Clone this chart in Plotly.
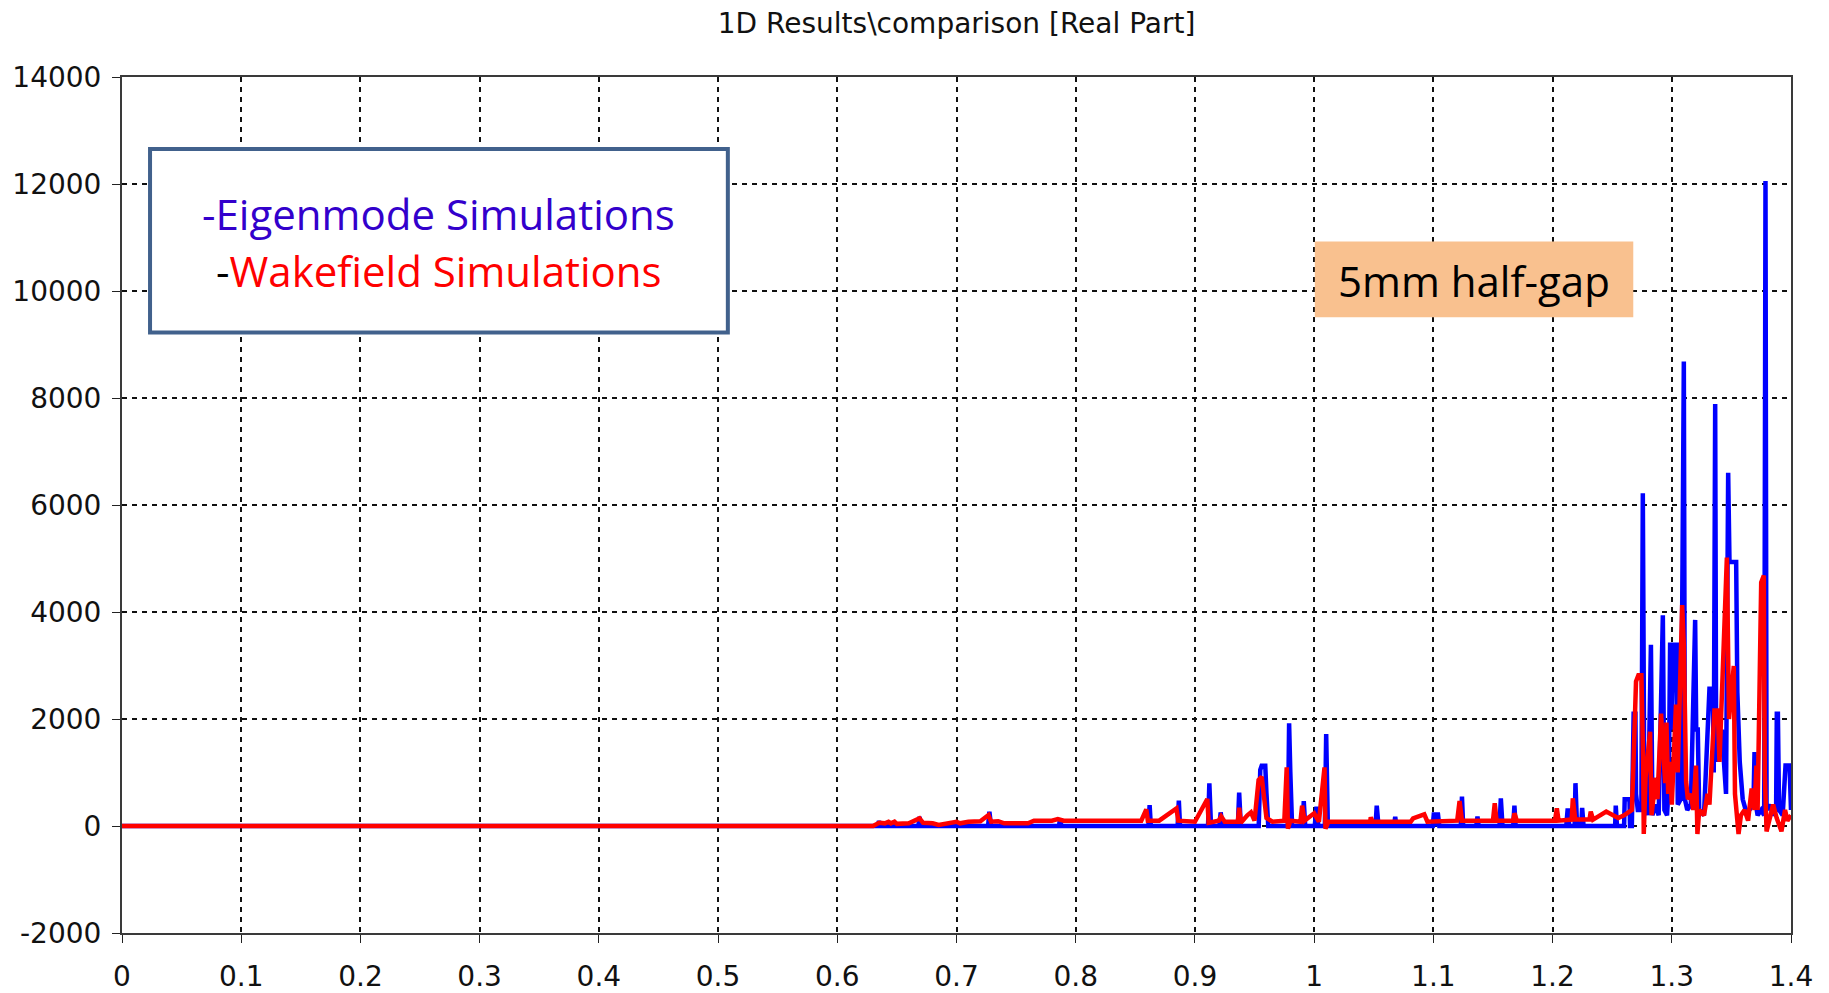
import plotly.graph_objects as go

# ---------------- data ----------------
eigen_x = [0.0, 0.634, 0.635, 0.636,
           0.668, 0.669, 0.670,
           0.7265, 0.7276, 0.729,
           0.786, 0.7868, 0.788,
           0.861, 0.862, 0.863,
           0.8855, 0.8865, 0.8875,
           0.911, 0.9121, 0.9135,
           0.9205, 0.9216, 0.923,
           0.936, 0.9371, 0.9385,
           0.9535, 0.9548, 0.956, 0.959, 0.960, 0.9615,
           0.978, 0.979, 0.980, 0.9815,
           0.9905, 0.9913, 0.9925,
           1.0005, 1.002, 1.0035,
           1.009, 1.0101, 1.0115,
           1.0515, 1.0525, 1.054,
           1.067, 1.068, 1.069,
           1.0995, 1.1005, 1.1015, 1.1037, 1.105,
           1.123, 1.124, 1.125,
           1.136, 1.137, 1.138,
           1.1555, 1.1566, 1.158,
           1.167, 1.168, 1.169,
           1.2115, 1.2127, 1.214,
           1.2185, 1.2192, 1.2205,
           1.224, 1.2248, 1.226,
           1.2525, 1.253, 1.254,
           1.26, 1.2605, 1.2645, 1.265,
           1.2665, 1.2675, 1.268, 1.2695, 1.270, 1.2715, 1.2745, 1.2757, 1.277,
           1.278, 1.2795, 1.280, 1.2825, 1.2838, 1.286, 1.289, 1.2925, 1.2938, 1.296, 1.2975,
           1.2986, 1.300, 1.3015, 1.303, 1.3042, 1.305,
           1.3075, 1.3083, 1.309, 1.3101, 1.311,
           1.313, 1.316, 1.3196, 1.3205, 1.3218, 1.323,
           1.327, 1.3316, 1.3344, 1.3352, 1.3364, 1.3372, 1.339, 1.342, 1.3455,
           1.3473, 1.3484, 1.354, 1.355, 1.357, 1.3595, 1.362, 1.365,
           1.3685, 1.3694, 1.3705, 1.372, 1.375, 1.3775, 1.3786, 1.3795,
           1.382, 1.385, 1.3875, 1.3881, 1.389, 1.390, 1.393, 1.3954, 1.3988, 1.4]
eigen_y = [0, 0, 93, 0,
           0, 174, 0,
           0, 268, 0,
           0, 137, 0,
           0, 392, 0,
           0, 473, 0,
           0, 797, 0,
           0, 255, 0,
           0, 623, 0,
           0, 1047, 1128, 1128, 610, 0,
           0, 1919, 1015, 0,
           0, 467, 0,
           0, 361, 0,
           0, 1720, 0,
           0, 380, 0,
           0, 174, 0,
           0, 255, 0, 250, 0,
           0, 550, 0,
           0, 175, 0,
           0, 517, 0,
           0, 380, 0,
           0, 330, 0,
           0, 800, 0,
           0, 340, 0,
           0, 380, 0,
           0, 500, 500, 0,
           0, 900, 2100, 2100, 600, 300, 300, 6220, 300,
           900, 400, 200, 3387, 200, 400, 200, 3937, 300, 200, 800,
           3430, 1800, 3430, 2500, 3430, 400,
           500, 4935, 4935, 8680, 500,
           300, 400, 3852, 1806, 1806, 300,
           200, 2567, 2567, 1000, 7886, 1500, 1200, 1800, 600,
           6601, 4935, 4935, 2500, 1200, 500, 300, 300,
           400, 1383, 400, 200, 300, 200, 12055, 300,
           400, 200, 300, 2100, 2100, 300, 200, 1129, 1129, 300]

wake_x = [0.0, 0.63, 0.6352, 0.64, 0.643, 0.645, 0.648, 0.65, 0.66, 0.665, 0.669, 0.672,
          0.68, 0.685, 0.695, 0.70, 0.703, 0.71, 0.72, 0.7268, 0.729, 0.735, 0.74,
          0.76, 0.765, 0.78, 0.785, 0.79, 0.80, 0.855, 0.8592, 0.8605, 0.87,
          0.8845, 0.886, 0.90, 0.9104, 0.9115, 0.92, 0.922, 0.925, 0.936, 0.9371,
          0.9385, 0.944, 0.947, 0.95, 0.9534, 0.956, 0.958, 0.96, 0.965, 0.975,
          0.977, 0.978, 0.98, 0.9885, 0.9899, 0.992, 1.0, 1.004, 1.0087, 1.0095,
          1.012, 1.047, 1.0475, 1.049, 1.081, 1.083, 1.0924, 1.095,
          1.12, 1.122, 1.124, 1.15, 1.1515, 1.153, 1.167, 1.168, 1.170,
          1.202, 1.2036, 1.205, 1.216, 1.217, 1.219, 1.231, 1.232, 1.234,
          1.245, 1.250, 1.255, 1.26, 1.263, 1.2665, 1.2675, 1.270, 1.272, 1.2745,
          1.276, 1.2765, 1.278, 1.2818, 1.283, 1.2865, 1.288, 1.291, 1.2925, 1.2945,
          1.2955, 1.297, 1.2985, 1.300, 1.3035, 1.305, 1.3087, 1.3101, 1.312, 1.3135,
          1.316, 1.318, 1.3203, 1.3215, 1.323, 1.327, 1.330, 1.3316, 1.3358, 1.3386,
          1.340, 1.3442, 1.3462, 1.348, 1.352, 1.353, 1.356, 1.358, 1.361, 1.364,
          1.367, 1.3694, 1.371, 1.372, 1.375, 1.3772, 1.378, 1.3795, 1.382, 1.385,
          1.388, 1.392, 1.395, 1.397, 1.4]
wake_y = [0, 0, 60, 50, 80, 50, 80, 40, 50, 100, 143, 60,
          50, 20, 50, 80, 50, 80, 90, 205, 80, 90, 50,
          50, 100, 100, 130, 100, 100, 100, 311, 100, 100,
          330, 100, 80, 505, 60, 100, 180, 80, 80, 343,
          60, 200, 255, 100, 860, 922, 600, 150, 80, 100,
          1096, -50, 100, 80, 380, 100, 237, 80, 1096, -50,
          80, 80, 162, 80, 80, 143, 218, 80,
          100, 467, 100, 100, 424, 100, 100, 237, 100,
          100, 330, 100, 120, 517, 120, 120, 270, 120,
          270, 200, 150, 200, 250, 300, 915, 2700, 2819, 2819,
          1200, -150, 900, 1763, 200, 900, 500, 2100, 1500, 800,
          1932, 600, 1200, 400, 2270, 1000, 4131, 3370, 830, 500,
          600, 300, 1130, -150, 300, 200, 600, 400, 2160, 2160,
          1200, 3920, 5019, 2000, 2990, 600, -150, 200, 300, 100,
          700, 300, 1130, 300, 4554, 4681, 1000, -100, 100, 400,
          150, -100, 300, 100, 200]

x_tickvals = [0, 0.1, 0.2, 0.3, 0.4, 0.5, 0.6, 0.7, 0.8, 0.9, 1.0, 1.1, 1.2, 1.3, 1.4]
x_ticktext = ["0", "0.1", "0.2", "0.3", "0.4", "0.5", "0.6", "0.7", "0.8", "0.9",
              "1", "1.1", "1.2", "1.3", "1.4"]
y_tickvals = [-2000, 0, 2000, 4000, 6000, 8000, 10000, 12000, 14000]
y_ticktext = ["-2000", "0", "2000", "4000", "6000", "8000", "10000", "12000", "14000"]

title_text = "1D Results\\comparison [Real Part]"
# ---------------------------------------------------------------

W, H = 1829, 993
L, R, T, B = 122, 38, 77, 60

fig = go.Figure()
fig.add_trace(go.Scatter(x=eigen_x, y=eigen_y, mode="lines",
                         line=dict(color="#0000ff", width=4.5),
                         name="Eigenmode Simulations"))
fig.add_trace(go.Scatter(x=wake_x, y=wake_y, mode="lines",
                         line=dict(color="#ff0000", width=4.5),
                         name="Wakefield Simulations"))

axis_common = dict(showline=True, mirror=True, linecolor="#3a3a3a", linewidth=2,
                   showgrid=True, gridcolor="#111111", gridwidth=1.5,
                   griddash="5px,5px", ticks="outside", ticklen=8,
                   tickcolor="#222222", zeroline=False, automargin=False,
                   tickfont=dict(family="DejaVu Sans", size=28, color="#111111"))

fig.update_xaxes(range=[0, 1.4], tickvals=x_tickvals, ticktext=x_ticktext,
                 ticklabelstandoff=9, **axis_common)
fig.update_yaxes(range=[-2000, 14000], tickvals=y_tickvals, ticktext=y_ticktext,
                 ticklabelstandoff=5, **axis_common)

fig.update_layout(
    width=W, height=H,
    margin=dict(l=L, r=R, t=T, b=B, autoexpand=False),
    paper_bgcolor="white", plot_bgcolor="white",
    showlegend=False,
    title=dict(text=title_text, x=0.523, xanchor="center",
               y=1 - 23 / H, yanchor="middle",
               font=dict(family="DejaVu Sans", size=28, color="#111111")),
    shapes=[
        dict(type="rect", xref="paper", yref="paper",
             x0=0.0168, x1=0.363, y0=0.7015, y1=0.9159,
             line=dict(color="#41618c", width=4), fillcolor="white", layer="above"),
        dict(type="rect", xref="paper", yref="paper",
             x0=0.7147, x1=0.9055, y0=0.7193, y1=0.8078,
             line=dict(width=0), fillcolor="#f9c18f", layer="above"),
    ],
    annotations=[
        dict(xref="paper", yref="paper", x=0.1899, y=0.8405,
             xanchor="center", yanchor="middle", showarrow=False,
             text="<span style='color:#3300cc'>-Eigenmode Simulations</span>",
             font=dict(family="Open Sans", size=42, color="#3300cc")),
        dict(xref="paper", yref="paper", x=0.1899, y=0.7735,
             xanchor="center", yanchor="middle", showarrow=False,
             text="<span style='color:#000000'>-</span><span style='color:#ff0000'>Wakefield Simulations</span>",
             font=dict(family="Open Sans", size=42, color="#ff0000")),
        dict(xref="paper", yref="paper", x=(1335.6 - L) / (W - L - R), y=0.7617,
             xanchor="left", yanchor="middle", showarrow=False,
             text="5mm half-gap",
             font=dict(family="Open Sans", size=42, color="#000000")),
    ],
)

fig.write_html("out.html")
